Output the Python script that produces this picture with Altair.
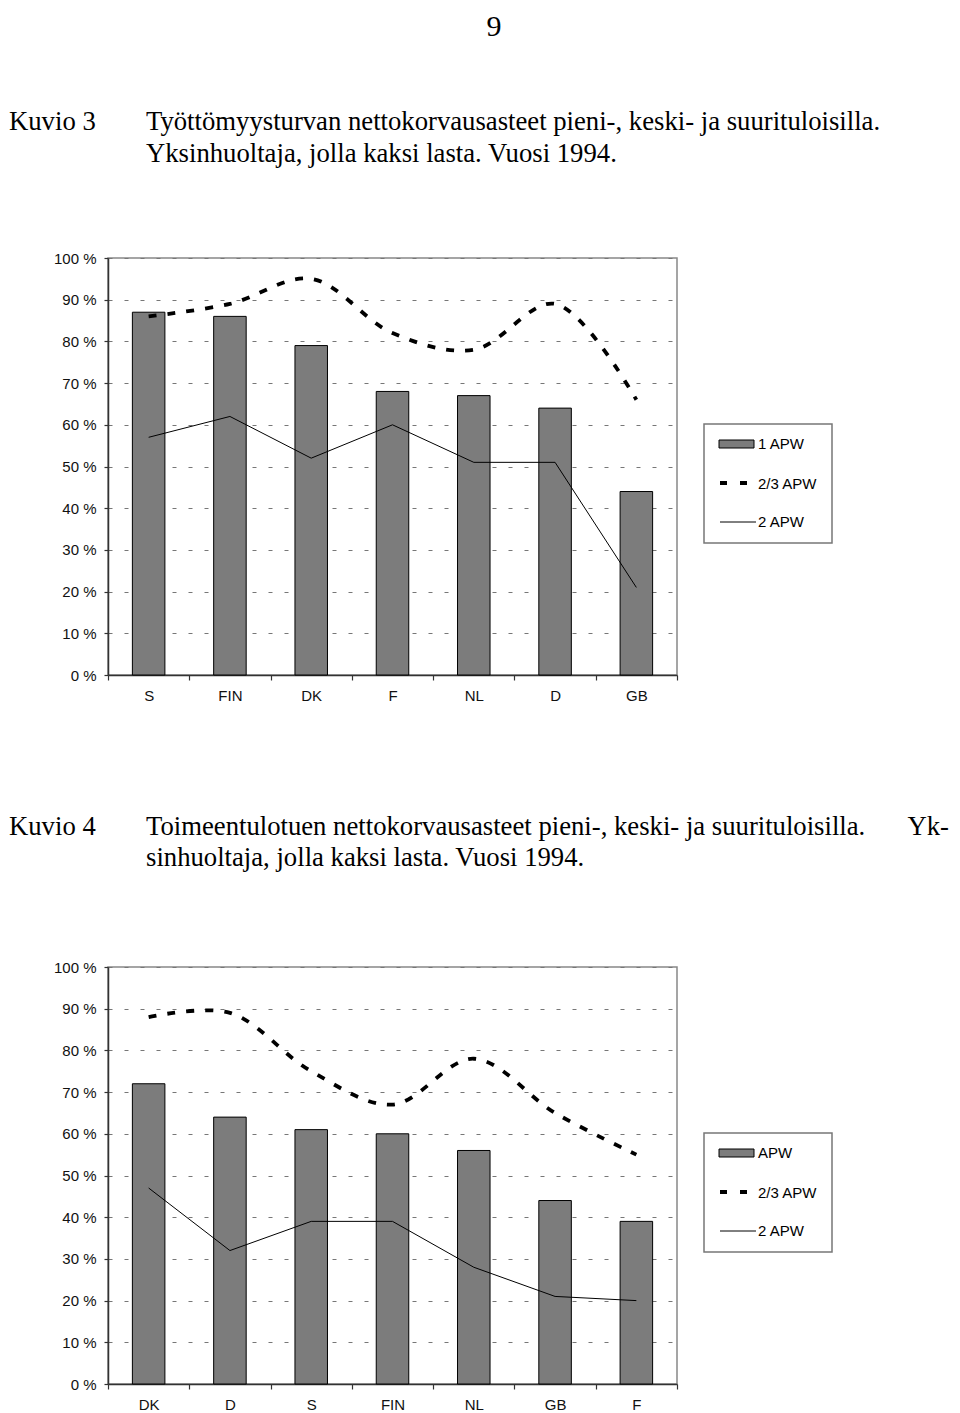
import altair as alt
import pandas as pd

# ---------------- data ----------------
countries_3 = ["S", "FIN", "DK", "F", "NL", "D", "GB"]
apw1_3 = [87, 86, 79, 68, 67, 64, 44]
apw23_3 = [86, 89, 95, 82, 78, 89, 66]
apw2_3 = [57, 62, 52, 60, 51, 51, 21]

countries_4 = ["DK", "D", "S", "FIN", "NL", "GB", "F"]
apw1_4 = [72, 64, 61, 60, 56, 44, 39]
apw23_4 = [88, 89, 75, 67, 78, 65, 55]
apw2_4 = [47, 32, 39, 39, 28, 21, 20]

y_ticks = [0, 10, 20, 30, 40, 50, 60, 70, 80, 90, 100]

legend_labels_3 = ["1 APW", "2/3 APW", "2 APW"]
legend_labels_4 = ["APW", "2/3 APW", "2 APW"]

page_number = "9"
fig3_label = "Kuvio 3"
fig3_lines = ["Työttömyysturvan nettokorvausasteet pieni-, keski- ja suurituloisilla.",
              "Yksinhuoltaja, jolla kaksi lasta. Vuosi 1994."]
fig4_label = "Kuvio 4"
fig4_lines = ["Toimeentulotuen nettokorvausasteet pieni-, keski- ja suurituloisilla.",
              "sinhuoltaja, jolla kaksi lasta. Vuosi 1994."]
fig4_hyphen = "Yk-"

# ---------------- style ----------------
W, H = 569, 417
SERIF = "Liberation Serif"
SANS = "Liberation Sans"
BAR_GRAY = "#7c7c7c"
TXT = 26.7


def text_mark(text, x, y, size, font, align="left", baseline="alphabetic"):
    return alt.Chart(alt.Data(values=[{}])).mark_text(
        text=text, font=font, fontSize=size, align=align, baseline=baseline, color="black"
    ).encode(x=alt.value(x), y=alt.value(y))


def legend_layers(labels):
    box = alt.Chart(alt.Data(values=[{}])).mark_rect(
        fill="white", stroke="#777", strokeWidth=1.5
    ).encode(x=alt.value(596), x2=alt.value(724), y=alt.value(166), y2=alt.value(285))
    patch = alt.Chart(alt.Data(values=[{}])).mark_rect(
        fill=BAR_GRAY, stroke="black", strokeWidth=1
    ).encode(x=alt.value(611), x2=alt.value(646), y=alt.value(182), y2=alt.value(190))
    dash = alt.Chart(alt.Data(values=[{}])).mark_rule(
        color="black", strokeWidth=4, strokeDash=[7, 13]
    ).encode(x=alt.value(612), x2=alt.value(648), y=alt.value(225))
    solid = alt.Chart(alt.Data(values=[{}])).mark_rule(
        color="black", strokeWidth=1
    ).encode(x=alt.value(612), x2=alt.value(648), y=alt.value(264))
    t1 = text_mark(labels[0], 650, 186, 15, SANS, baseline="middle")
    t2 = text_mark(labels[1], 650, 226, 15, SANS, baseline="middle")
    t3 = text_mark(labels[2], 650, 264, 15, SANS, baseline="middle")
    return [box, patch, dash, solid, t1, t2, t3]


def panel(cats, bars, dashed, solid, legend_labels, texts):
    df = pd.DataFrame({"country": cats, "bar": bars, "dashed": dashed, "solid": solid})
    base = alt.Chart(df)
    xenc = alt.X(
        "country:N", sort=cats,
        scale=alt.Scale(paddingInner=0, paddingOuter=0),
        axis=alt.Axis(title=None, labelAngle=0, tickBand="extent", tickSize=5,
                      labelPadding=8, grid=False),
    )
    yscale = alt.Scale(domain=[0, 100], nice=False)
    yaxis = alt.Axis(title=None, values=y_ticks, labelExpr="datum.value + ' %'",
                     tickSize=4, labelPadding=8, grid=True,
                     gridDash=[4, 12], gridColor="#777", gridWidth=1)
    bar_layer = base.mark_bar(
        width=alt.RelativeBandSize(0.4), fill=BAR_GRAY, stroke="black", strokeWidth=1
    ).encode(x=xenc, y=alt.Y("bar:Q", scale=yscale, axis=yaxis))
    dashed_layer = base.mark_line(
        color="black", strokeWidth=3.8, strokeDash=[8, 11], interpolate="catmull-rom"
    ).encode(x=alt.X("country:N", sort=cats), y=alt.Y("dashed:Q", scale=yscale))
    solid_layer = base.mark_line(
        color="black", strokeWidth=1
    ).encode(x=alt.X("country:N", sort=cats), y=alt.Y("solid:Q", scale=yscale))
    return alt.layer(bar_layer, dashed_layer, solid_layer,
                     *legend_layers(legend_labels), *texts).properties(width=W, height=H)


texts3 = [
    text_mark(page_number, 386, -222, 30, SERIF, align="center"),
    text_mark(fig3_label, -99, -128, TXT, SERIF),
    text_mark(fig3_lines[0], 38, -128, TXT, SERIF),
    text_mark(fig3_lines[1], 38, -96, TXT, SERIF),
]
texts4 = [
    text_mark(fig4_label, -99, -132, TXT, SERIF),
    text_mark(fig4_lines[0], 38, -132, TXT, SERIF),
    text_mark(fig4_hyphen, 841, -132, TXT, SERIF, align="right"),
    text_mark(fig4_lines[1], 38, -101, TXT, SERIF),
]

p3 = panel(countries_3, apw1_3, apw23_3, apw2_3, legend_labels_3, texts3)
p4 = panel(countries_4, apw1_4, apw23_4, apw2_4, legend_labels_4, texts4)

chart = alt.vconcat(p3, p4, spacing=109).properties(
    padding={"left": 0, "top": 3, "right": 0, "bottom": 0}
).configure_view(
    stroke="#888", strokeWidth=1.5
).configure_axis(
    domainColor="#333", domainWidth=1.5, tickColor="#333", tickWidth=1.2,
    labelFont=SANS, labelFontSize=15, labelColor="#111"
)

chart.save("out.html", embed_options={"renderer": "svg", "actions": False})
